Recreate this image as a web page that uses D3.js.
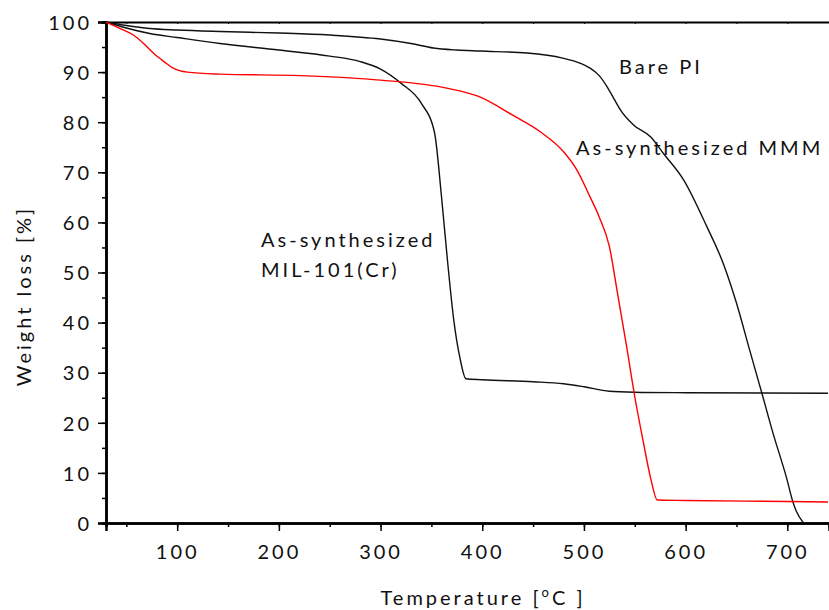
<!DOCTYPE html>
<html><head><meta charset="utf-8">
<script src="https://cdn.jsdelivr.net/npm/d3@7"></script>
<style>
html,body{margin:0;padding:0;background:#fff;}
svg text{font-family:Lato,"Open Sans",sans-serif;fill:#111;}
</style></head>
<body><svg id="c" width="829" height="610"></svg>
<script>
const barePI_T = [30,50,73,100,142,200,250,300,330,352,375,398,444,479,496,506,515,523,530,536,549,566,578,598,621,637,650,663,675,686,699,706,709,716];
const barePI_W = [100,99.3,98.7,98.4,98.1,97.8,97.4,96.6,95.7,94.8,94.4,94.2,93.8,92.8,91.8,90.8,89.3,87,84.5,82.4,79.4,77,73.8,68.5,59.1,51.8,43.9,34.5,25.9,17.9,9.2,3.9,2.3,0];
const mil_T = [30,50,73,100,142,200,250,280,300,320,340,353,360,366,372,378,384,400,450,480,500,525,550,600,740];
const mil_W = [100,98.8,97.7,96.9,95.7,94.4,93.2,92.1,90.6,87.8,83.8,78,65,52,40.5,33,28.8,28.6,28.2,27.8,27.2,26.3,26.1,26.0,25.9];
const mmm_T = [30,44,57,67,77,87,96,110,142,221,300,365,397,430,457,480,493,506,515,525,533,542,550,558,566,572,600,700,740];
const mmm_W = [100,98.7,97.4,95.7,93.7,92.1,90.8,90.0,89.6,89.3,88.4,86.8,85.1,81.4,78.1,74.1,70.5,65.1,61.1,55.2,45.9,35.2,25.2,16.6,8.6,4.6,4.5,4.3,4.2];
const xTicks = [100,200,300,400,500,600,700];
const yTicks = [0,10,20,30,40,50,60,70,80,90,100];

const svg = d3.select("#c");
const L=106, R=829, T=22, B=523;
const x = d3.scaleLinear().domain([30,741]).range([L,R]);
const y = d3.scaleLinear().domain([0,100]).range([B,T]);

const xMinor = d3.range(50,741,50);
const yMinor = d3.range(0,101,5);

const gx = svg.append("g").attr("transform",`translate(0,${B})`);
gx.call(d3.axisBottom(x).tickValues(xMinor).tickSize(4).tickFormat(""));
gx.call(g=>g.selectAll(".tick line").attr("stroke-width",1.5));
const gx2 = svg.append("g").attr("transform",`translate(0,${B})`)
  .call(d3.axisBottom(x).tickValues(xTicks).tickSize(8).tickPadding(14));
gx2.selectAll(".tick line").attr("stroke-width",1.5);
gx2.selectAll("text").attr("font-size",20).style("letter-spacing","3px").attr("fill","#111");
[gx,gx2].forEach(g=>g.select(".domain").attr("stroke-width",2.5));

const gy = svg.append("g").attr("transform",`translate(${L},0)`)
  .call(d3.axisLeft(y).tickValues(yMinor).tickSize(4).tickFormat(""));
gy.selectAll(".tick line").attr("stroke-width",1.5);
const gy2 = svg.append("g").attr("transform",`translate(${L},0)`)
  .call(d3.axisLeft(y).tickValues(yTicks).tickSize(8).tickPadding(6));
gy2.selectAll(".tick line").attr("stroke-width",1.5);
gy2.selectAll("text").attr("font-size",20).style("letter-spacing","3px").attr("dy","0.36em").attr("fill","#111");
[gy,gy2].forEach(g=>g.select(".domain").attr("stroke-width",2.5));

const gt = svg.append("g").attr("transform",`translate(0,${T})`)
  .call(d3.axisBottom(x).tickValues(xMinor).tickSize(2).tickFormat("").tickSizeOuter(0));
gt.select(".domain").attr("stroke-width",2);
gt.selectAll(".tick line").attr("stroke-width",1);

const line = d3.line().curve(d3.curveMonotoneX).x(d=>x(d[0])).y(d=>y(d[1]));
function draw(T_,W_,col){
  svg.append("path").datum(T_.map((t,i)=>[t,W_[i]]))
    .attr("d",line).attr("fill","none").attr("stroke",col).attr("stroke-width",1.4);
}
draw(mil_T,mil_W,"#111");
draw(barePI_T,barePI_W,"#111");
draw(mmm_T,mmm_W,"#ff0000");

function ann(txt,px,py){
  svg.append("text").attr("x",px).attr("y",py).attr("font-size",20)
    .style("letter-spacing","3px").text(txt);
}
ann("Bare PI",619,74);
ann("As-synthesized MMM",576,155);
ann("As-synthesized",261,247);
ann("MIL-101(Cr)",261,277);

const xt = svg.append("text").attr("x",483).attr("y",605).attr("text-anchor","middle")
  .attr("font-size",20).style("letter-spacing","3px");
xt.append("tspan").text("Temperature [");
xt.append("tspan").attr("baseline-shift","super").attr("font-size",13).text("o");
xt.append("tspan").text("C ]");

svg.append("text").attr("transform","translate(31,296) rotate(-90)").attr("text-anchor","middle")
  .attr("font-size",20).style("letter-spacing","3px").text("Weight loss [%]");
</script></body></html>
